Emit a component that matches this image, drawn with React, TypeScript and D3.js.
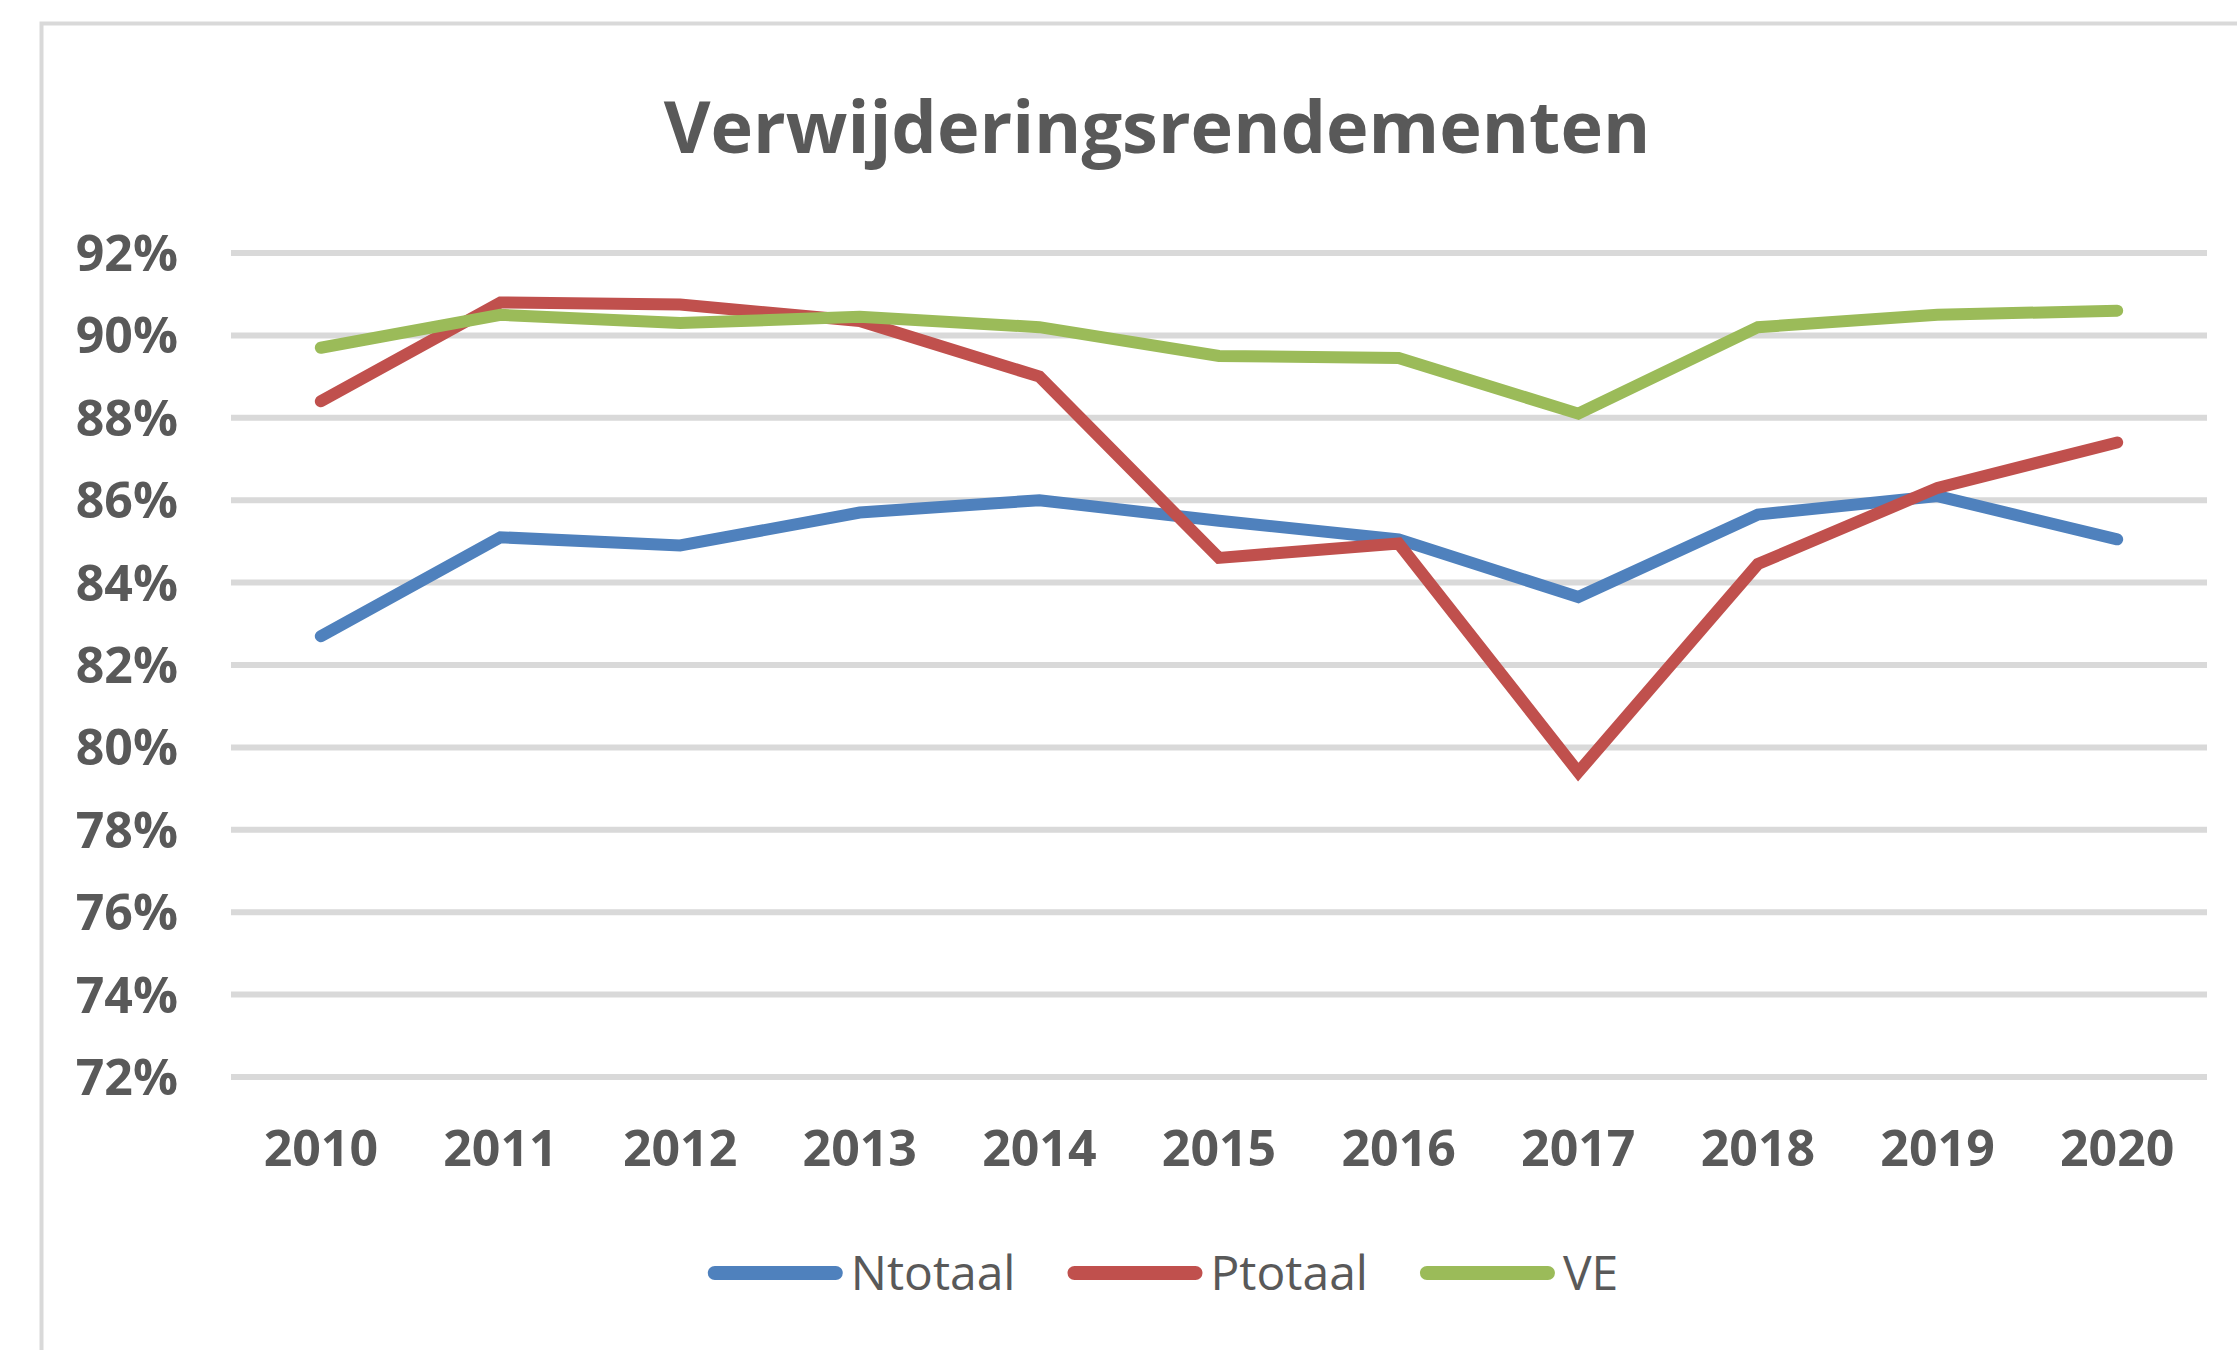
import React, { useEffect, useRef } from 'react';
import * as d3 from 'd3';

const YEARS = ['2010', '2011', '2012', '2013', '2014', '2015', '2016', '2017', '2018', '2019', '2020'];
const NTOTAAL = [82.7, 85.1, 84.9, 85.7, 86.0, 85.5, 85.05, 83.65, 85.65, 86.1, 85.05];
const PTOTAAL = [88.4, 90.8, 90.75, 90.35, 89.0, 84.6, 84.95, 79.4, 84.45, 86.3, 87.4];
const VE = [89.7, 90.5, 90.3, 90.45, 90.2, 89.5, 89.45, 88.1, 90.2, 90.5, 90.6];
const Y_TICKS = [72, 74, 76, 78, 80, 82, 84, 86, 88, 90, 92];
const SERIES_NAMES = ['Ntotaal', 'Ptotaal', 'VE'];
const COLORS = ['#4F81BD', '#C0504D', '#9BBB59'];

const WIDTH = 2237;
const HEIGHT = 1350;
const PLOT = { left: 231, right: 2207, top: 253, bottom: 1077 };
const TEXT = '#595959';
const FONT = '"Open Sans", "Noto Sans", sans-serif';

export default function App() {
  const ref = useRef<SVGSVGElement>(null);

  useEffect(() => {
    const svg = d3.select(ref.current);
    svg.selectAll('*').remove();

    const x = d3.scaleBand().domain(YEARS).range([PLOT.left, PLOT.right]);
    const y = d3.scaleLinear().domain([72, 92]).range([PLOT.bottom, PLOT.top]);

    // chart frame, runs past the right and bottom edges like the screenshot
    svg.append('rect')
      .attr('x', 41.5).attr('y', 23.5)
      .attr('width', 2400).attr('height', 2000)
      .attr('fill', '#fff')
      .attr('stroke', '#d9d9d9')
      .attr('stroke-width', 4);

    svg.append('text')
      .attr('x', 1157).attr('y', 153)
      .attr('text-anchor', 'middle')
      .attr('font-family', FONT)
      .attr('font-weight', 700)
      .attr('font-size', 72)
      .attr('fill', TEXT)
      .text('Verwijderingsrendementen');

    // gridlines
    svg.append('g')
      .selectAll('line')
      .data(Y_TICKS)
      .join('line')
      .attr('x1', PLOT.left).attr('x2', PLOT.right)
      .attr('y1', d => y(d)).attr('y2', d => y(d))
      .attr('stroke', '#d9d9d9')
      .attr('stroke-width', 6);

    svg.append('g')
      .selectAll('text')
      .data(Y_TICKS)
      .join('text')
      .attr('x', 178)
      .attr('y', d => y(d) + 18)
      .attr('text-anchor', 'end')
      .attr('font-family', FONT)
      .attr('font-weight', 700)
      .attr('font-size', 50)
      .attr('fill', TEXT)
      .text(d => d + '%');

    svg.append('g')
      .selectAll('text')
      .data(YEARS)
      .join('text')
      .attr('x', d => (x(d) as number) + x.bandwidth() / 2)
      .attr('y', 1166)
      .attr('text-anchor', 'middle')
      .attr('font-family', FONT)
      .attr('font-weight', 700)
      .attr('font-size', 50)
      .attr('fill', TEXT)
      .text(d => d);

    const line = d3.line<number>()
      .x((d, i) => (x(YEARS[i]) as number) + x.bandwidth() / 2)
      .y(d => y(d));

    [NTOTAAL, PTOTAAL, VE].forEach((vals, i) => {
      svg.append('path')
        .attr('d', line(vals))
        .attr('fill', 'none')
        .attr('stroke', COLORS[i])
        .attr('stroke-width', 12)
        .attr('stroke-linecap', 'round')
        .attr('stroke-linejoin', 'miter');
    });

    // legend
    const legend = svg.append('g');
    const SW = 121;
    const items = SERIES_NAMES.map((name, i) => {
      const g = legend.append('g');
      g.append('line')
        .attr('x1', 7).attr('x2', 7 + SW)
        .attr('y1', 1273).attr('y2', 1273)
        .attr('stroke', COLORS[i])
        .attr('stroke-width', 14)
        .attr('stroke-linecap', 'round');
      const t = g.append('text')
        .attr('x', SW + 22)
        .attr('y', 1290)
        .attr('font-family', FONT)
        .attr('font-size', 48)
        .attr('fill', TEXT)
        .text(name);
      const w = SW + 22 + (t.node() as SVGTextElement).getComputedTextLength();
      return { g, w };
    });
    const gap = 52;
    const total = d3.sum(items, d => d.w) + gap * (items.length - 1);
    let cx = 1163 - total / 2;
    items.forEach(it => {
      it.g.attr('transform', `translate(${cx},0)`);
      cx += it.w + gap;
    });
  }, []);

  return (
    <svg
      ref={ref}
      width={WIDTH}
      height={HEIGHT}
      style={{ position: 'absolute', left: 0, top: 0, display: 'block', background: '#fff' }}
    />
  );
}
